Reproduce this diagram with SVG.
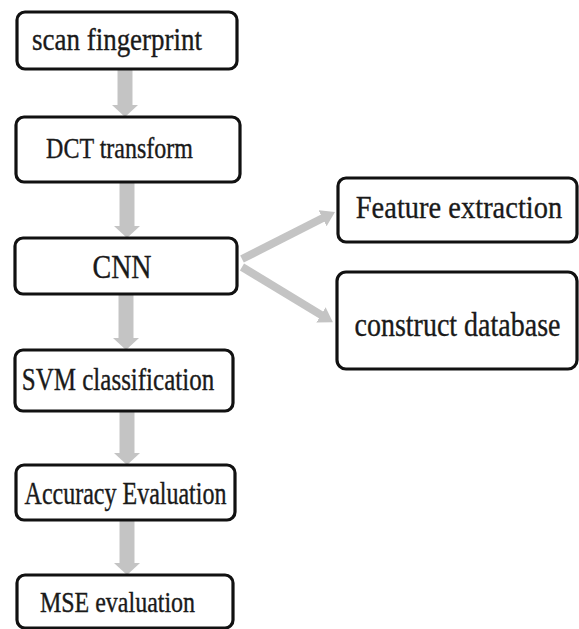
<svg xmlns="http://www.w3.org/2000/svg" width="579" height="629" viewBox="0 0 579 629">
<style>
.box{fill:#fff;stroke:#111;stroke-width:3.2}
.lbl{font-family:"Liberation Serif","DejaVu Serif","Times New Roman",serif;fill:#1a1a1a;stroke:#1a1a1a;stroke-width:0.3;text-anchor:middle}
.vshaft{stroke:#c4c4c4;stroke-width:15;fill:none}
.dshaft{stroke:#c4c4c4;stroke-width:8;fill:none}
</style>
<defs>
<marker id="vhead" viewBox="0 0 12 26" refX="1" refY="13" markerWidth="12" markerHeight="26" markerUnits="userSpaceOnUse" orient="auto">
<path d="M0,0 L12,13 L0,26 z" fill="#c4c4c4"/>
</marker>
<marker id="dhead" viewBox="0 0 14 18" refX="1" refY="9" markerWidth="14" markerHeight="18" markerUnits="userSpaceOnUse" orient="auto">
<path d="M0,0 L14,9 L0,18 z" fill="#c4c4c4"/>
</marker>
</defs>
<rect width="579" height="629" fill="#fff"/>
<g id="connectors">
<line class="vshaft" x1="125" y1="70" x2="125" y2="106" marker-end="url(#vhead)"/>
<line class="vshaft" x1="127" y1="183" x2="127" y2="227" marker-end="url(#vhead)"/>
<line class="vshaft" x1="126" y1="294" x2="126" y2="339" marker-end="url(#vhead)"/>
<line class="vshaft" x1="127" y1="411" x2="127" y2="454" marker-end="url(#vhead)"/>
<line class="vshaft" x1="127" y1="520" x2="127" y2="564" marker-end="url(#vhead)"/>
<line class="dshaft" x1="242" y1="259" x2="323.4" y2="217.8" marker-end="url(#dhead)"/>
<line class="dshaft" x1="242" y1="267" x2="321.8" y2="315.4" marker-end="url(#dhead)"/>
</g>
<g id="scan">
<rect class="box" x="17" y="12" width="220" height="57" rx="8"/>
<text class="lbl" font-size="27" transform="translate(117,50) scale(1,1.2)">scan fingerprint</text>
</g>
<g id="dct">
<rect class="box" x="16" y="117" width="224" height="65" rx="8"/>
<text class="lbl" font-size="24" transform="translate(119.5,158) scale(1,1.22)">DCT transform</text>
</g>
<g id="cnn">
<rect class="box" x="15" y="238" width="222" height="56" rx="8"/>
<text class="lbl" font-size="28" transform="translate(122,278) scale(1,1.2)">CNN</text>
</g>
<g id="svm">
<rect class="box" x="15" y="350" width="218" height="61" rx="8"/>
<text class="lbl" font-size="25" transform="translate(118,390) scale(1,1.3)">SVM classification</text>
</g>
<g id="accuracy">
<rect class="box" x="16" y="465" width="219" height="55" rx="8"/>
<text class="lbl" font-size="24" transform="translate(125.5,504) scale(1,1.3)">Accuracy Evaluation</text>
</g>
<g id="mse">
<rect class="box" x="17" y="575" width="216" height="53" rx="8"/>
<text class="lbl" font-size="24" transform="translate(117.5,612) scale(1,1.26)">MSE evaluation</text>
</g>
<g id="feature">
<rect class="box" x="338" y="178" width="239" height="64" rx="8"/>
<text class="lbl" font-size="28.5" transform="translate(459,218) scale(1,1.12)">Feature extraction</text>
</g>
<g id="database">
<rect class="box" x="337" y="272" width="240" height="97" rx="9"/>
<text class="lbl" font-size="28" transform="translate(457.5,336) scale(1,1.2)">construct database</text>
</g>
</svg>
